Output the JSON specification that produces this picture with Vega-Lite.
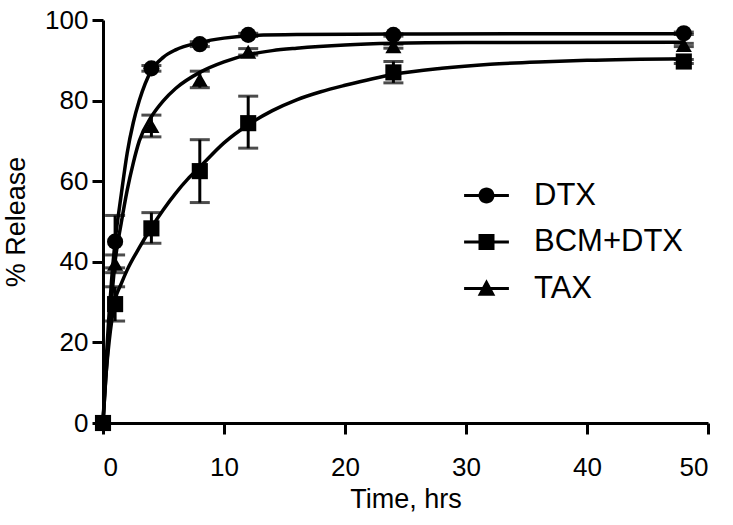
{
  "$schema": "https://vega.github.io/schema/vega-lite/v6.json",
  "width": 605,
  "height": 403,
  "autosize": "none",
  "padding": {"left": 103, "top": 20, "right": 25, "bottom": 102},
  "background": "white",
  "config": {
    "view": {"stroke": null},
    "font": "Liberation Sans",
    "axis": {
      "domainColor": "black", "domainWidth": 3, "tickColor": "black", "tickWidth": 3, "tickSize": 11,
      "labelColor": "black", "labelFont": "Liberation Sans", "labelFontSize": 26, "labelPadding": 4,
      "titleColor": "black", "titleFont": "Liberation Sans", "titleFontSize": 27, "titleFontWeight": "normal",
      "grid": false
    }
  },
  "datasets": {
    "points": [
      {"series": "DTX", "time": 0, "release": 0},
      {"series": "DTX", "time": 1, "release": 45, "lo": 38.5, "hi": 51.5},
      {"series": "DTX", "time": 4, "release": 88, "lo": 87.3, "hi": 88.7},
      {"series": "DTX", "time": 8, "release": 94, "lo": 93.4, "hi": 94.6},
      {"series": "DTX", "time": 12, "release": 96.3, "lo": 95.9, "hi": 96.7},
      {"series": "DTX", "time": 24, "release": 96.3, "lo": 96, "hi": 96.6},
      {"series": "DTX", "time": 48, "release": 96.7, "lo": 96.4, "hi": 97},
      {"series": "TAX", "time": 0, "release": 0},
      {"series": "TAX", "time": 1, "release": 39.5, "lo": 37.3, "hi": 41.7},
      {"series": "TAX", "time": 4, "release": 73.7, "lo": 71, "hi": 76.4},
      {"series": "TAX", "time": 8, "release": 85.2, "lo": 83.2, "hi": 87.3},
      {"series": "TAX", "time": 12, "release": 92.1, "lo": 91.3, "hi": 92.9},
      {"series": "TAX", "time": 24, "release": 93.5, "lo": 93, "hi": 94},
      {"series": "TAX", "time": 48, "release": 93.8, "lo": 93.4, "hi": 94.2},
      {"series": "BCM+DTX", "time": 0, "release": 0},
      {"series": "BCM+DTX", "time": 1, "release": 29.5, "lo": 25.3, "hi": 33.8},
      {"series": "BCM+DTX", "time": 4, "release": 48.3, "lo": 44.6, "hi": 52.2},
      {"series": "BCM+DTX", "time": 8, "release": 62.5, "lo": 54.7, "hi": 70.3},
      {"series": "BCM+DTX", "time": 12, "release": 74.4, "lo": 68.2, "hi": 81.1},
      {"series": "BCM+DTX", "time": 24, "release": 87, "lo": 84.4, "hi": 89.7},
      {"series": "BCM+DTX", "time": 48, "release": 89.7, "lo": 89.2, "hi": 90.2}
    ],
    "curves": [
      {"series": "DTX", "time": 0, "release": 0},
      {"series": "DTX", "time": 0.25, "release": 15},
      {"series": "DTX", "time": 0.5, "release": 27},
      {"series": "DTX", "time": 0.75, "release": 37},
      {"series": "DTX", "time": 1, "release": 45},
      {"series": "DTX", "time": 1.5, "release": 56.5},
      {"series": "DTX", "time": 2, "release": 67},
      {"series": "DTX", "time": 2.5, "release": 74.5},
      {"series": "DTX", "time": 3, "release": 80},
      {"series": "DTX", "time": 4, "release": 87.5},
      {"series": "DTX", "time": 5, "release": 90.8},
      {"series": "DTX", "time": 6, "release": 92.6},
      {"series": "DTX", "time": 8, "release": 94.4},
      {"series": "DTX", "time": 10, "release": 95.5},
      {"series": "DTX", "time": 12, "release": 96.1},
      {"series": "DTX", "time": 16, "release": 96.4},
      {"series": "DTX", "time": 24, "release": 96.5},
      {"series": "DTX", "time": 36, "release": 96.6},
      {"series": "DTX", "time": 48, "release": 96.6},
      {"series": "TAX", "time": 0, "release": 0},
      {"series": "TAX", "time": 0.25, "release": 12},
      {"series": "TAX", "time": 0.5, "release": 22.5},
      {"series": "TAX", "time": 0.75, "release": 32},
      {"series": "TAX", "time": 1, "release": 40},
      {"series": "TAX", "time": 1.5, "release": 49.5},
      {"series": "TAX", "time": 2, "release": 57.8},
      {"series": "TAX", "time": 2.5, "release": 64.5},
      {"series": "TAX", "time": 3, "release": 70},
      {"series": "TAX", "time": 4, "release": 76},
      {"series": "TAX", "time": 5, "release": 80},
      {"series": "TAX", "time": 6, "release": 83},
      {"series": "TAX", "time": 8, "release": 87},
      {"series": "TAX", "time": 10, "release": 89.6},
      {"series": "TAX", "time": 12, "release": 91.4},
      {"series": "TAX", "time": 14, "release": 92.4},
      {"series": "TAX", "time": 16, "release": 93},
      {"series": "TAX", "time": 20, "release": 93.8},
      {"series": "TAX", "time": 24, "release": 94.2},
      {"series": "TAX", "time": 30, "release": 94.4},
      {"series": "TAX", "time": 48, "release": 94.5},
      {"series": "BCM+DTX", "time": 0, "release": 0},
      {"series": "BCM+DTX", "time": 0.25, "release": 12},
      {"series": "BCM+DTX", "time": 0.5, "release": 20},
      {"series": "BCM+DTX", "time": 0.75, "release": 26},
      {"series": "BCM+DTX", "time": 1, "release": 30.5},
      {"series": "BCM+DTX", "time": 1.5, "release": 34.5},
      {"series": "BCM+DTX", "time": 2, "release": 38},
      {"series": "BCM+DTX", "time": 3, "release": 43.5},
      {"series": "BCM+DTX", "time": 4, "release": 48.5},
      {"series": "BCM+DTX", "time": 5, "release": 53},
      {"series": "BCM+DTX", "time": 6, "release": 57},
      {"series": "BCM+DTX", "time": 7, "release": 60.5},
      {"series": "BCM+DTX", "time": 8, "release": 63.5},
      {"series": "BCM+DTX", "time": 10, "release": 69.5},
      {"series": "BCM+DTX", "time": 12, "release": 74},
      {"series": "BCM+DTX", "time": 14, "release": 77.5},
      {"series": "BCM+DTX", "time": 16, "release": 80.2},
      {"series": "BCM+DTX", "time": 18, "release": 82.2},
      {"series": "BCM+DTX", "time": 20, "release": 83.8},
      {"series": "BCM+DTX", "time": 24, "release": 86.5},
      {"series": "BCM+DTX", "time": 28, "release": 88},
      {"series": "BCM+DTX", "time": 32, "release": 89},
      {"series": "BCM+DTX", "time": 36, "release": 89.6},
      {"series": "BCM+DTX", "time": 40, "release": 90},
      {"series": "BCM+DTX", "time": 48, "release": 90.4}
    ]
  },
  "encoding": {
    "x": {"field": "time", "type": "quantitative",
      "scale": {"domain": [0, 50], "nice": false},
      "axis": {"values": [0, 10, 20, 30, 40, 50], "title": "Time, hrs", "labelPadding": 20, "titlePadding": 6}},
    "y": {"field": "release", "type": "quantitative",
      "scale": {"domain": [0, 100], "nice": false},
      "axis": {"values": [0, 20, 40, 60, 80, 100], "title": "% Release", "titlePadding": 14}}
  },
  "layer": [
    {
      "data": {"name": "curves"},
      "mark": {"type": "line", "color": "black", "strokeWidth": 3.5, "interpolate": "monotone"},
      "encoding": {"detail": {"field": "series"}}
    },
    {
      "data": {"name": "points"},
      "transform": [{"filter": "datum.time > 0"}],
      "mark": {"type": "rule", "color": "black", "strokeWidth": 3},
      "encoding": {"y": {"field": "lo", "type": "quantitative"}, "y2": {"field": "hi"}}
    },
    {
      "data": {"name": "points"},
      "transform": [{"filter": "datum.time > 0"}],
      "mark": {"type": "tick", "color": "black", "orient": "horizontal", "size": 20, "thickness": 3},
      "encoding": {"y": {"field": "hi", "type": "quantitative"}}
    },
    {
      "data": {"name": "points"},
      "transform": [{"filter": "datum.time > 0"}],
      "mark": {"type": "tick", "color": "black", "orient": "horizontal", "size": 20, "thickness": 3},
      "encoding": {"y": {"field": "lo", "type": "quantitative"}}
    },
    {
      "data": {"name": "points"},
      "mark": {"type": "point", "filled": true, "color": "black", "opacity": 1, "size": 260},
      "encoding": {
        "shape": {"field": "series", "type": "nominal",
          "scale": {"domain": ["DTX", "BCM+DTX", "TAX"], "range": ["circle", "square", "triangle-up"]},
          "legend": null}
      }
    },
    {
      "data": {"name": "points"},
      "transform": [{"filter": "datum.time > 1000"}],
      "mark": {"type": "point", "filled": true, "color": "black", "opacity": 1, "size": 256},
      "encoding": {
        "shape": {"field": "series", "type": "nominal",
          "scale": {"domain": ["DTX", "BCM+DTX", "TAX"],
            "range": [
              "M-2.8,-0.19H2.8V0.19H-2.8ZM1,0A1,1,0,1,1,-1,0A1,1,0,1,1,1,0Z",
              "M-2.8,-0.19H2.8V0.19H-2.8ZM-1,-1H1V1H-1Z",
              "M-2.8,-0.19H2.8V0.19H-2.8ZM0,-1.15L1.1,0.9L-1.1,0.9Z"
            ]},
          "legend": {
            "title": null, "orient": "none", "legendX": 368, "legendY": 160,
            "labelFont": "Liberation Sans", "labelFontSize": 31, "labelColor": "black",
            "labelOffset": 32, "rowPadding": 14.5, "symbolSize": 256, "padding": 0,
            "symbolFillColor": "black", "symbolOpacity": 1, "symbolStrokeWidth": 0
          }
        }
      }
    }
  ],
  "resolve": {"scale": {"shape": "independent"}, "legend": {"shape": "independent"}}
}
